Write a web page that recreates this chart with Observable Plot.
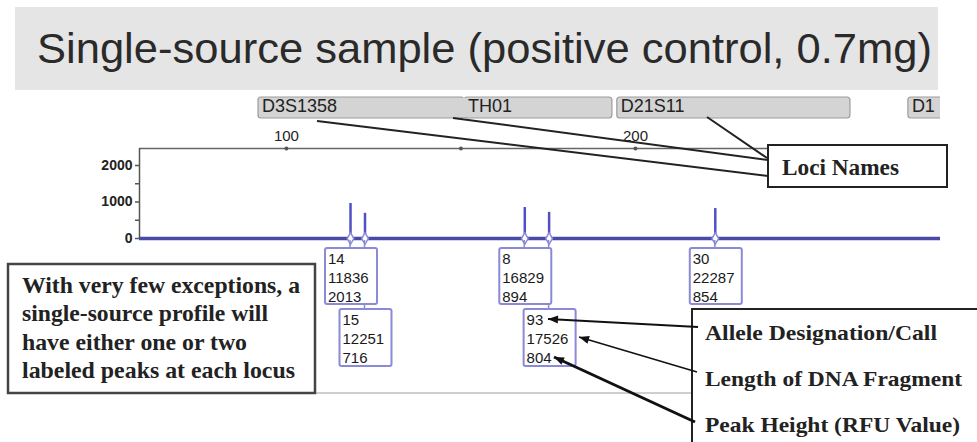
<!DOCTYPE html>
<html><head><meta charset="utf-8">
<script src="https://cdn.jsdelivr.net/npm/d3@7"></script>
<script src="https://cdn.jsdelivr.net/npm/@observablehq/plot@0.6"></script>
<style>
body{margin:0;background:#fff;}
#chart{position:relative;width:977px;height:442px;overflow:hidden;}
</style>
</head><body><div id="chart"></div>
<script>
// ---- data ----
const titleText = "Single-source sample (positive control, 0.7mg)";
const lociNames = ["D3S1358", "TH01", "D21S11", "D1"];
const lociStart = [92, 151, 194.8, 278.2];
const lociEnd   = [151, 193.4, 261.6, 290];
const peakLocus  = ["D3S1358", "D3S1358", "TH01", "TH01", "D21S11"];
const alleles    = ["14", "15", "8", "93", "30"];
const sizesBp    = [118.36, 122.51, 168.29, 175.26, 222.87];
const rfuLabels  = [2013, 716, 894, 804, 854];
const peakDrawn  = [960, 690, 850, 715, 820];
const xTicks = [100, 150, 200, 250];
const yTicks = [0, 500, 1000, 1500, 2000];
const noteLines = ["With very few exceptions, a", "single-source profile will", "have either one or two", "labeled peaks at each locus"];
const legendLines = ["Allele Designation/Call", "Length of DNA Fragment", "Peak Height (RFU Value)"];
const lociBoxText = "Loci Names";

const peaks = alleles.map((a, i) => ({
  allele: a, size: sizesBp[i], rfu: rfuLabels[i], drawn: peakDrawn[i], locus: peakLocus[i],
  row: peakLocus.slice(0, i).filter(l => l === peakLocus[i]).length
}));

const X0 = 57.9, X1 = 287.4, YMAX = 2466;
const baseBlue = "#4a4aa6", peakBlue = "#5050c4", boxBlue = "#8a8ad8";

const plot = Plot.plot({
  width: 977, height: 442,
  marginLeft: 139, marginRight: 37, marginTop: 148, marginBottom: 204,
  x: {domain: [X0, X1], label: null},
  y: {domain: [0, YMAX], label: null},
  style: {fontFamily: "'Liberation Sans', Arial, sans-serif", background: "transparent", color: "#222"},
  marks: [
    Plot.ruleY([YMAX], {stroke: "#666", strokeWidth: 1.5}),
    Plot.ruleX([X0], {y1: 0, y2: YMAX, stroke: "#555", strokeWidth: 1.5}),
    Plot.axisX({anchor: "top", ticks: xTicks, tickSize: 0, tickPadding: 8, label: null,
      tickFormat: d => d % 100 === 0 ? String(d) : "", fontSize: 15, fill: "#222"}),
    Plot.dot(xTicks, {x: d => d, y: YMAX, r: 2, fill: "#555"}),
    Plot.axisY({ticks: yTicks, tickSize: 4, tickPadding: 3, stroke: "#555", strokeWidth: 1.5, label: null,
      tickFormat: d => d % 1000 === 0 ? String(d) : "", fontSize: 14, fontWeight: "bold", fill: "#222"}),
    Plot.ruleY([0], {stroke: baseBlue, strokeWidth: 3.5}),
    Plot.ruleX(peaks, {x: "size", y1: 0, y2: "drawn", stroke: peakBlue, strokeWidth: 2.5}),
    Plot.dot(peaks, {x: "size", y: 0, symbol: "diamond", r: 3.5, fill: "white", stroke: boxBlue, strokeWidth: 1.5})
  ]
});
document.getElementById("chart").appendChild(plot);

const svg = d3.select(plot);
const xs = plot.scale("x");
const xp = v => xs.apply(v);
const yBase = plot.scale("y").apply(0);

// defs: arrow + clip
const defs = svg.append("defs");
defs.append("marker").attr("id", "arr").attr("viewBox", "0 0 10 8").attr("refX", 10).attr("refY", 4)
  .attr("markerUnits", "userSpaceOnUse").attr("markerWidth", 11).attr("markerHeight", 8).attr("orient", "auto")
  .append("path").attr("d", "M0,0L10,4L0,8z").attr("fill", "#111");
defs.append("clipPath").attr("id", "lociclip").append("rect").attr("x", 0).attr("y", 0).attr("width", 940).attr("height", 442);

const ann = svg.append("g").attr("text-anchor", "start");

// title band
ann.append("rect").attr("x", 15).attr("y", 7).attr("width", 923).attr("height", 83).attr("fill", "#e5e5e5");
ann.append("text").attr("x", 37).attr("y", 63).attr("font-size", 43)
  .attr("font-family", "'Liberation Sans', Arial, sans-serif").attr("fill", "#2a2a2a")
  .attr("textLength", 895).attr("lengthAdjust", "spacingAndGlyphs").text(titleText);

// loci bars
const gL = ann.append("g").attr("clip-path", "url(#lociclip)");
lociNames.forEach((n, i) => {
  gL.append("rect").attr("x", xp(lociStart[i])).attr("y", 97).attr("width", xp(lociEnd[i]) - xp(lociStart[i]))
    .attr("height", 21).attr("rx", 3).attr("fill", "#d4d4d4").attr("stroke", "#9c9c9c").attr("stroke-width", 1.2);
});
lociNames.forEach((n, i) => {
  if (i > 0 && lociStart[i] === lociEnd[i - 1]) {
    gL.append("rect").attr("x", xp(lociStart[i]) - 1.5).attr("y", 97.8).attr("width", 3).attr("height", 19.4).attr("fill", "#d4d4d4");
  }
});
lociNames.forEach((n, i) => {
  gL.append("text").attr("x", xp(lociStart[i]) + 4).attr("y", 112).attr("font-size", 18)
    .attr("font-family", "'Liberation Sans', Arial, sans-serif").attr("fill", "#222").text(n);
});

// lines from loci names to box
const lociLines = [[317, 121, 768, 176], [453, 118, 768, 160], [707, 117, 767, 158]];
lociLines.forEach(l => ann.append("line").attr("x1", l[0]).attr("y1", l[1]).attr("x2", l[2]).attr("y2", l[3])
  .attr("stroke", "#222").attr("stroke-width", 2));
ann.append("rect").attr("x", 768).attr("y", 145).attr("width", 179).attr("height", 42)
  .attr("fill", "white").attr("stroke", "#222").attr("stroke-width", 2);
ann.append("text").attr("x", 782).attr("y", 175).attr("font-size", 23).attr("font-weight", "bold")
  .attr("font-family", "'Liberation Serif', 'Times New Roman', serif").attr("fill", "#222")
  .attr("textLength", 117).attr("lengthAdjust", "spacingAndGlyphs").text(lociBoxText);

// panel bottom line
ann.append("line").attr("x1", 8).attr("x2", 692).attr("y1", 393).attr("y2", 393).attr("stroke", "#cfcfcf").attr("stroke-width", 2);

// label boxes
const rowTop = [248, 309], boxH = [56, 57];
peaks.forEach(p => {
  const cx = xp(p.size);
  ann.append("line").attr("x1", cx).attr("x2", cx).attr("y1", yBase + 2).attr("y2", rowTop[p.row])
    .attr("stroke", boxBlue).attr("stroke-width", 1.5);
});
peaks.forEach(p => {
  const left = xp(p.size) - 25, top = rowTop[p.row];
  ann.append("rect").attr("x", left).attr("y", top).attr("width", 52).attr("height", boxH[p.row]).attr("rx", 2)
    .attr("fill", "white").attr("stroke", boxBlue).attr("stroke-width", 2);
  [p.allele, (p.size * 100).toFixed(0), String(p.rfu)].forEach((t, k) => {
    ann.append("text").attr("x", left + 3).attr("y", top + 16 + 19 * k).attr("font-size", 15)
      .attr("font-family", "'Liberation Sans', Arial, sans-serif").attr("fill", "#1a1a1a").text(t);
  });
});

// note box (left)
ann.append("rect").attr("x", 8).attr("y", 264).attr("width", 307).attr("height", 129)
  .attr("fill", "white").attr("stroke", "#444").attr("stroke-width", 2.5);
const noteW = [278, 246, 225, 273];
noteLines.forEach((t, i) => ann.append("text").attr("x", 22).attr("y", 293 + 28.3 * i).attr("font-size", 23)
  .attr("font-weight", "bold").attr("font-family", "'Liberation Serif', 'Times New Roman', serif").attr("fill", "#222")
  .attr("textLength", noteW[i]).attr("lengthAdjust", "spacingAndGlyphs").text(t));

// legend box (right)
ann.append("rect").attr("x", 692).attr("y", 309).attr("width", 300).attr("height", 150)
  .attr("fill", "white").attr("stroke", "#222").attr("stroke-width", 2);
const legW = [232, 257, 255];
legendLines.forEach((t, i) => ann.append("text").attr("x", 705).attr("y", 340 + 46 * i).attr("font-size", 22)
  .attr("font-weight", "bold").attr("font-family", "'Liberation Serif', 'Times New Roman', serif").attr("fill", "#222")
  .attr("textLength", legW[i]).attr("lengthAdjust", "spacingAndGlyphs").text(t));
const arrows = [[698, 327, 548, 319, 2], [697, 372, 579, 337, 1.5], [695, 422, 554, 357, 3]];
arrows.forEach(a => ann.append("line").attr("x1", a[0]).attr("y1", a[1]).attr("x2", a[2]).attr("y2", a[3])
  .attr("stroke", "#111").attr("stroke-width", a[4]).attr("marker-end", "url(#arr)"));
</script>
</body></html>
